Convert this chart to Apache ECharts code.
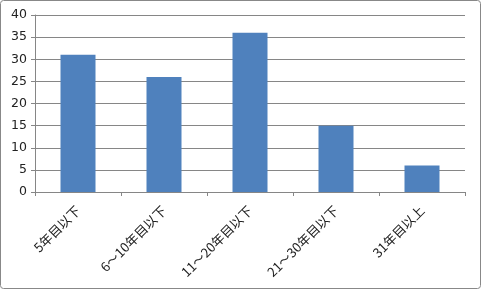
<!DOCTYPE html>
<html><head><meta charset="utf-8">
<script src="https://cdn.jsdelivr.net/npm/echarts@6/dist/echarts.min.js"></script>
<style>html,body{margin:0;padding:0;background:#fff}#c{width:481px;height:289px}</style>
</head><body><div id="c"></div>
<script>
const categories = ['5年目以下', '6～10年目以下', '11～20年目以下', '21～30年目以下', '31年目以上'];
const values = [31, 26, 36, 15, 6];
const yTicks = [0, 5, 10, 15, 20, 25, 30, 35, 40];

const chart = echarts.init(document.getElementById('c'));
chart.setOption({
  animation: false,
  graphic: [{type: 'rect', shape: {x: 0.5, y: 0.5, width: 480, height: 288, r: 3}, style: {fill: 'none', stroke: '#888', lineWidth: 1}, silent: true}],
  grid: {left: 35, right: 16, top: 15, bottom: 97},
  xAxis: {
    type: 'category', data: categories,
    axisLine: {lineStyle: {color: '#868686'}},
    axisTick: {show: true, length: 4, alignWithLabel: false, lineStyle: {color: '#868686'}},
    axisLabel: {rotate: 45, interval: 0, color: '#222', fontSize: 13, fontFamily: 'Noto Sans CJK JP', margin: 16}
  },
  yAxis: {
    type: 'value', min: yTicks[0], max: yTicks[yTicks.length - 1], interval: 5,
    axisLine: {show: true, lineStyle: {color: '#868686'}},
    axisTick: {show: true, length: 4, lineStyle: {color: '#868686'}},
    splitLine: {lineStyle: {color: '#868686'}},
    axisLabel: {color: '#222', fontSize: 12.5, fontFamily: 'DejaVu Sans', margin: 8}
  },
  series: [{type: 'bar', data: values, barWidth: 35, itemStyle: {color: '#4f81bd'}}]
});
</script></body></html>
